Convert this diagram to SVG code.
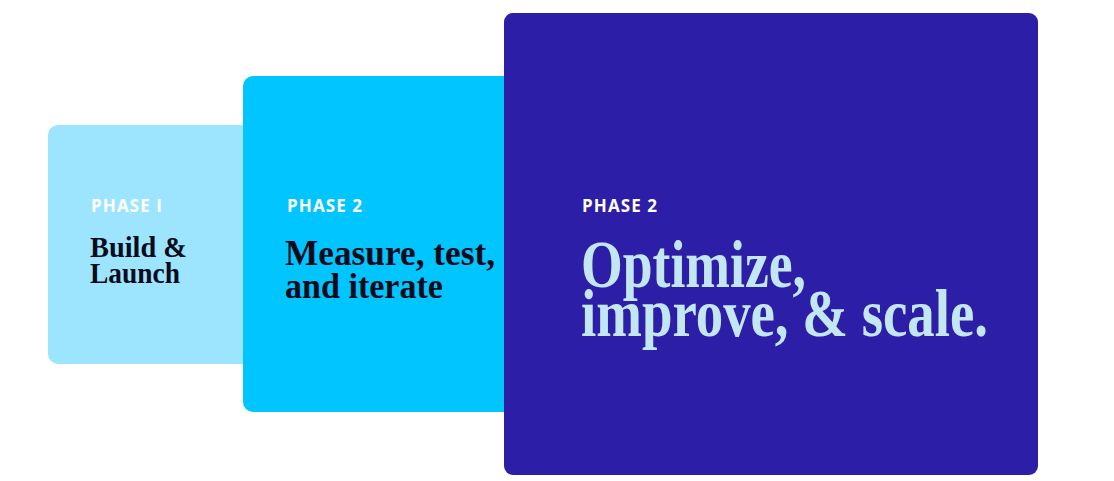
<svg xmlns="http://www.w3.org/2000/svg" width="1114" height="481" viewBox="0 0 1114 481">
  <style>
    .label { font-family: "Open Sans", "Liberation Sans", sans-serif; font-weight: 700; font-size: 17px; letter-spacing: 1.1px; fill: #ffffff; }
    .head { font-family: "Liberation Serif", "DejaVu Serif", serif; font-weight: 700; fill: #0b0b1c; }
    .big { font-family: "Liberation Serif", "DejaVu Serif", serif; font-weight: 700; fill: #c3e7f2; }
  </style>
  <rect width="1114" height="481" fill="#ffffff"/>
  <g id="phase1">
    <rect x="48" y="125" width="260" height="239" rx="10" fill="#9de5fe"/>
    <text class="label" x="91" y="212">PHASE I</text>
    <text class="head" font-size="29" x="90" y="257" textLength="97" lengthAdjust="spacingAndGlyphs">Build &amp;</text>
    <text class="head" font-size="29" x="90" y="283" textLength="90" lengthAdjust="spacingAndGlyphs">Launch</text>
  </g>
  <g id="phase2">
    <rect x="243" y="76" width="320" height="336" rx="10" fill="#00c5fe"/>
    <text class="label" x="287" y="212">PHASE 2</text>
    <text class="head" font-size="35" x="285" y="265" textLength="210" lengthAdjust="spacingAndGlyphs">Measure, test,</text>
    <text class="head" font-size="35" x="285" y="298" textLength="158" lengthAdjust="spacingAndGlyphs">and iterate</text>
  </g>
  <g id="phase3">
    <rect x="504" y="13" width="534" height="462" rx="9" fill="#2d1ea7"/>
    <text class="label" x="582" y="212">PHASE 2</text>
    <text class="big" font-size="68" x="581" y="287" textLength="225" lengthAdjust="spacingAndGlyphs">Optimize,</text>
    <text class="big" font-size="68" x="581" y="336" textLength="407" lengthAdjust="spacingAndGlyphs">improve, &amp; scale.</text>
  </g>
  <g id="connectors"/>
</svg>
